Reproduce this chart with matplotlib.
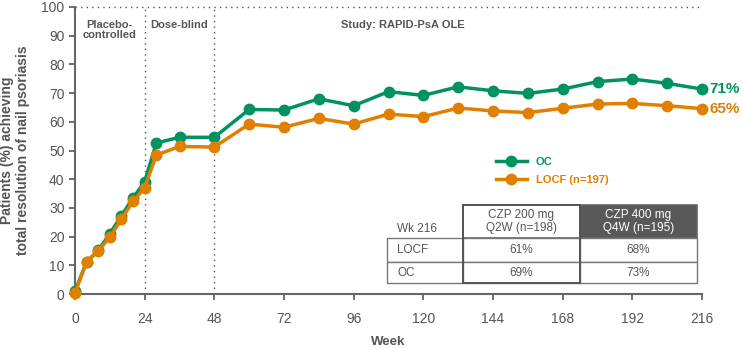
import matplotlib
matplotlib.use("Agg")
import matplotlib.pyplot as plt
from matplotlib.patches import Rectangle

plt.rcParams['font.family'] = ['Liberation Sans', 'DejaVu Sans']

weeks = [0, 4, 8, 12, 16, 20, 24, 28, 36, 48, 60, 72, 84, 96, 108, 120,
         132, 144, 156, 168, 180, 192, 204, 216]
oc = [1.0, 11.2, 15.2, 21.0, 27.3, 33.5, 39.1, 52.6, 54.6, 54.6, 64.3, 64.1,
      68.0, 65.6, 70.5, 69.2, 72.2, 70.8, 69.9, 71.4, 74.0, 74.9, 73.4, 71.4]
locf = [0.3, 11.2, 15.0, 19.8, 26.1, 32.3, 37.0, 48.4, 51.4, 51.2, 59.2, 58.1,
        61.2, 59.2, 62.7, 61.8, 64.8, 63.8, 63.2, 64.7, 66.2, 66.4, 65.6, 64.6]
end_labels = ["71%", "65%"]

phases = ["Placebo-\ncontrolled", "Dose-blind", "Study: RAPID-PsA OLE"]
table_cols = ["CZP 200 mg\nQ2W (n=198)", "CZP 400 mg\nQ4W (n=195)"]
table_rows = ["LOCF", "OC"]
table_vals = [["61%", "68%"], ["69%", "73%"]]

green = '#00925F'
orange = '#E07F00'
grey = '#555555'

fig = plt.figure(figsize=(7.42, 3.48), dpi=100)
ax = fig.add_axes([75/742, 1-294/348, 627/742, 287/348])

ax.plot(weeks, oc, '-o', color=green, lw=2.5, ms=7.5, clip_on=False, zorder=4, label='OC')
ax.plot(weeks, locf, '-o', color=orange, lw=2.5, ms=7.5, clip_on=False, zorder=5, label='LOCF (n=197)')

ax.set_xlim(0, 216)
ax.set_ylim(0, 100)
ax.set_xticks(range(0, 217, 24))
ax.set_yticks(range(0, 101, 10))
ax.tick_params(colors=grey, labelsize=10, length=4, width=1.2, labelcolor=grey)
ax.tick_params(axis='x', pad=9)
for s in ['top', 'right']:
    ax.spines[s].set_visible(False)
for s in ['left', 'bottom']:
    ax.spines[s].set_color('#666666')
    ax.spines[s].set_linewidth(1.5)

ax.axhline(100, color='#555555', ls=(0, (1, 3)), lw=1, clip_on=False)
for w in [24, 48]:
    ax.axvline(w, color='#555555', ls=(0, (1, 3)), lw=1)

ax.text(12, 95.5, phases[0], ha='center', va='top', fontsize=8, fontweight='bold', color=grey, linespacing=1.05)
ax.text(36, 95.5, phases[1], ha='center', va='top', fontsize=8, fontweight='bold', color=grey)
ax.text(113, 95.5, phases[2], ha='center', va='top', fontsize=8, fontweight='bold', color=grey)

ax.text(218.5, oc[-1], end_labels[0], color=green, fontsize=11, fontweight='bold', va='center')
ax.text(218.5, locf[-1], end_labels[1], color=orange, fontsize=11, fontweight='bold', va='center')

ax.set_xlabel('Week', fontsize=9.5, fontweight='bold', color=grey, labelpad=7)
ax.set_ylabel('Patients (%) achieving\ntotal resolution of nail psoriasis', fontsize=10,
              fontweight='bold', color=grey, labelpad=8)

leg = ax.legend(loc='upper left', bbox_to_anchor=(490/742, 1-151/348), bbox_transform=fig.transFigure,
                frameon=False, handlelength=2.8, handletextpad=0.8, labelspacing=0.75,
                borderpad=0, prop={'weight': 'bold', 'size': 8}, labelcolor='linecolor')

# table drawn in pixel coordinates
tx = fig.add_axes([387/742, 1-283/348, 310/742, 78/348])
tx.set_xlim(387, 697)
tx.set_ylim(283, 205)
tx.axis('off')
xs = [387, 463, 580, 697]
ys = [205, 238, 262, 283]
tx.text(397, 229, "Wk 216", fontsize=8.5, color=grey, va='center')
for j, col in enumerate(table_cols):
    dark = j == 1
    tx.add_patch(Rectangle((xs[j+1], ys[0]), xs[j+2]-xs[j+1], ys[1]-ys[0],
                           facecolor='#595959' if dark else 'white',
                           edgecolor='#666666', lw=1.2, clip_on=False))
    tx.text((xs[j+1]+xs[j+2])/2, (ys[0]+ys[1])/2, col, ha='center', va='center', fontsize=8.5,
            color='white' if dark else grey, linespacing=1.05)
for i, row in enumerate(table_rows):
    for j in range(3):
        tx.add_patch(Rectangle((xs[j], ys[i+1]), xs[j+1]-xs[j], ys[i+2]-ys[i+1],
                               facecolor='white', edgecolor='#777777', lw=1.0, clip_on=False))
    tx.text(397, (ys[i+1]+ys[i+2])/2, row, fontsize=8.5, color=grey, va='center')
    for j in range(2):
        tx.text((xs[j+1]+xs[j+2])/2, (ys[i+1]+ys[i+2])/2, table_vals[i][j], ha='center',
                va='center', fontsize=8.5, color=grey)
tx.add_patch(Rectangle((463, 205), 117, 78, facecolor='none', edgecolor='#555555', lw=1.4, clip_on=False))

fig.savefig('out.png', dpi=100)
